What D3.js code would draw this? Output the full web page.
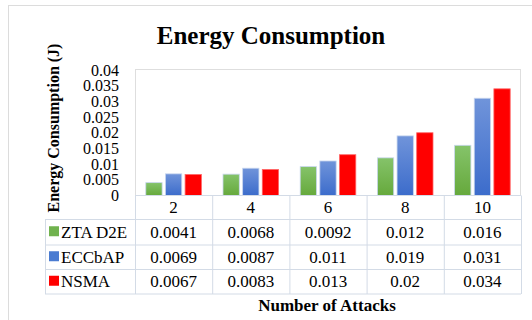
<!DOCTYPE html>
<html>
<head>
<meta charset="utf-8">
<script src="https://cdn.jsdelivr.net/npm/d3@7"></script>
<style>
  html, body { margin: 0; padding: 0; background: #fff; }
  svg { display: block; }
  text { font-family: "Liberation Serif", "Times New Roman", serif; fill: #000; }
</style>
</head>
<body>
<svg id="chart" width="532" height="320"></svg>
<script>
// Energy consumption per number of attacks
const categories = ["2", "4", "6", "8", "10"];
const seriesNames = ["ZTA D2E", "ECCbAP", "NSMA"];
const ztaD2E = [0.0041, 0.0068, 0.0092, 0.012, 0.016];
const eccbap = [0.0069, 0.0087, 0.011, 0.019, 0.031];
const nsma = [0.0067, 0.0083, 0.013, 0.02, 0.034];
const tableLabels = [
  ["0.0041", "0.0068", "0.0092", "0.012", "0.016"],
  ["0.0069", "0.0087", "0.011", "0.019", "0.031"],
  ["0.0067", "0.0083", "0.013", "0.02", "0.034"]
];
const yTicks = [0, 0.005, 0.01, 0.015, 0.02, 0.025, 0.03, 0.035, 0.04];
const yTickLabels = ["0", "0.005", "0.01", "0.015", "0.02", "0.025", "0.03", "0.035", "0.04"];

const seriesValues = [ztaD2E, eccbap, nsma];
const svg = d3.select("#chart");
const serif = "'Liberation Serif', 'Times New Roman', serif";

// gradients for the bar fills
const defs = svg.append("defs");
const grads = [
  { id: "gGreen", top: "#85c36a", bottom: "#66a93c" },
  { id: "gBlue", top: "#7094da", bottom: "#3c6ccb" },
  { id: "gRed", top: "#ff0000", bottom: "#ff0000" }
];
grads.forEach(g => {
  const lg = defs.append("linearGradient").attr("id", g.id)
    .attr("x1", 0).attr("y1", 0).attr("x2", 0).attr("y2", 1);
  lg.append("stop").attr("offset", "0%").attr("stop-color", g.top);
  lg.append("stop").attr("offset", "100%").attr("stop-color", g.bottom);
});
const swatch = ["#70b24e", "#4a7bd1", "#ff0000"];

// outer chart frame
svg.append("rect").attr("x", 8.5).attr("y", 5.5).attr("width", 540).attr("height", 330)
  .attr("fill", "none").attr("stroke", "#dcdcdc");

// title
svg.append("text").attr("x", 271).attr("y", 44).attr("text-anchor", "middle")
  .style("font-family", serif)
  .style("font-size", "25px").style("font-weight", "bold").text("Energy Consumption");

const plotLeft = 135, plotRight = 521, plotTop = 70, plotBottom = 195.5;

const x = d3.scaleBand().domain(categories).range([plotLeft, plotRight]);
const xs = d3.scaleBand().domain(seriesNames).range([0, x.bandwidth()])
  .paddingInner(0.17).paddingOuter(0.55);
const y = d3.scaleLinear().domain([0, 0.04]).range([plotBottom, plotTop]);

// plot area frame
svg.append("rect").attr("x", plotLeft + 0.5).attr("y", plotTop - 0.5)
  .attr("width", plotRight - plotLeft - 1).attr("height", plotBottom - plotTop + 0.5)
  .attr("fill", "none").attr("stroke", "#dedede");

// y axis labels
const yAxis = d3.axisLeft(y).tickValues(yTicks)
  .tickFormat((d, i) => yTickLabels[i]).tickSize(0).tickPadding(0);
const yg = svg.append("g").attr("transform", "translate(119,0)").call(yAxis);
yg.select(".domain").remove();
yg.attr("font-family", null).attr("font-size", null);
yg.selectAll("text").style("font-family", serif)
  .style("font-size", "16px").attr("fill", "#000");

// bars
seriesValues.forEach((vals, si) => {
  svg.append("g").selectAll("rect").data(vals).join("rect")
    .attr("x", (d, i) => x(categories[i]) + xs(seriesNames[si]))
    .attr("y", d => y(d))
    .attr("width", xs.bandwidth())
    .attr("height", d => plotBottom - y(d))
    .attr("fill", `url(#${grads[si].id})`)
    .attr("stroke", si === 2 ? "#ff6666" : "#c8d6ee")
    .attr("stroke-width", 0.8);
});

// data table
const tableLeft = 45;
const rowEdges = [plotBottom, 219.5, 245, 269.5, 294];
const lineColor = "#d3dbe6";
const tg = svg.append("g");
const cellFont = "17px";

// header row (category labels)
tg.append("line").attr("x1", plotLeft).attr("x2", plotRight)
  .attr("y1", rowEdges[0]).attr("y2", rowEdges[0]).attr("stroke", lineColor);
for (let r = 1; r < rowEdges.length; r++) {
  tg.append("line").attr("x1", tableLeft).attr("x2", plotRight)
    .attr("y1", rowEdges[r]).attr("y2", rowEdges[r]).attr("stroke", lineColor);
}
tg.append("line").attr("x1", tableLeft + 0.5).attr("x2", tableLeft + 0.5)
  .attr("y1", rowEdges[1]).attr("y2", rowEdges[4]).attr("stroke", lineColor);
const colEdges = categories.map(c => x(c)).concat([plotRight]);
colEdges.forEach(cx => {
  tg.append("line").attr("x1", cx + 0.5).attr("x2", cx + 0.5)
    .attr("y1", rowEdges[0]).attr("y2", rowEdges[4]).attr("stroke", lineColor);
});

tg.selectAll("text.cat").data(categories).join("text").attr("class", "cat")
  .attr("x", d => x(d) + x.bandwidth() / 2).attr("y", (rowEdges[0] + rowEdges[1]) / 2 + 5.5)
  .attr("text-anchor", "middle").style("font-family", serif)
  .style("font-size", cellFont).text(d => d);

tableLabels.forEach((row, ri) => {
  const cy = (rowEdges[ri + 1] + rowEdges[ri + 2]) / 2 + 5.5;
  tg.append("rect").attr("x", 49).attr("y", cy - 11.5).attr("width", 10).attr("height", 10)
    .attr("fill", swatch[ri]);
  tg.append("text").attr("x", 61).attr("y", cy).style("font-family", serif)
    .style("font-size", cellFont).text(seriesNames[ri]);
  tg.selectAll(null).data(row).join("text")
    .attr("x", (d, i) => x(categories[i]) + x.bandwidth() / 2).attr("y", cy)
    .attr("text-anchor", "middle").style("font-family", serif)
    .style("font-size", cellFont).text(d => d);
});

// axis titles
svg.append("text").attr("transform", "translate(58.5,128) rotate(-90)")
  .attr("text-anchor", "middle").style("font-family", serif)
  .style("font-size", "16px").style("font-weight", "bold")
  .text("Energy Consumption (J)");
svg.append("text").attr("x", 327).attr("y", 311).attr("text-anchor", "middle")
  .style("font-family", serif)
  .style("font-size", "17px").style("font-weight", "bold").text("Number of Attacks");
</script>
</body>
</html>
